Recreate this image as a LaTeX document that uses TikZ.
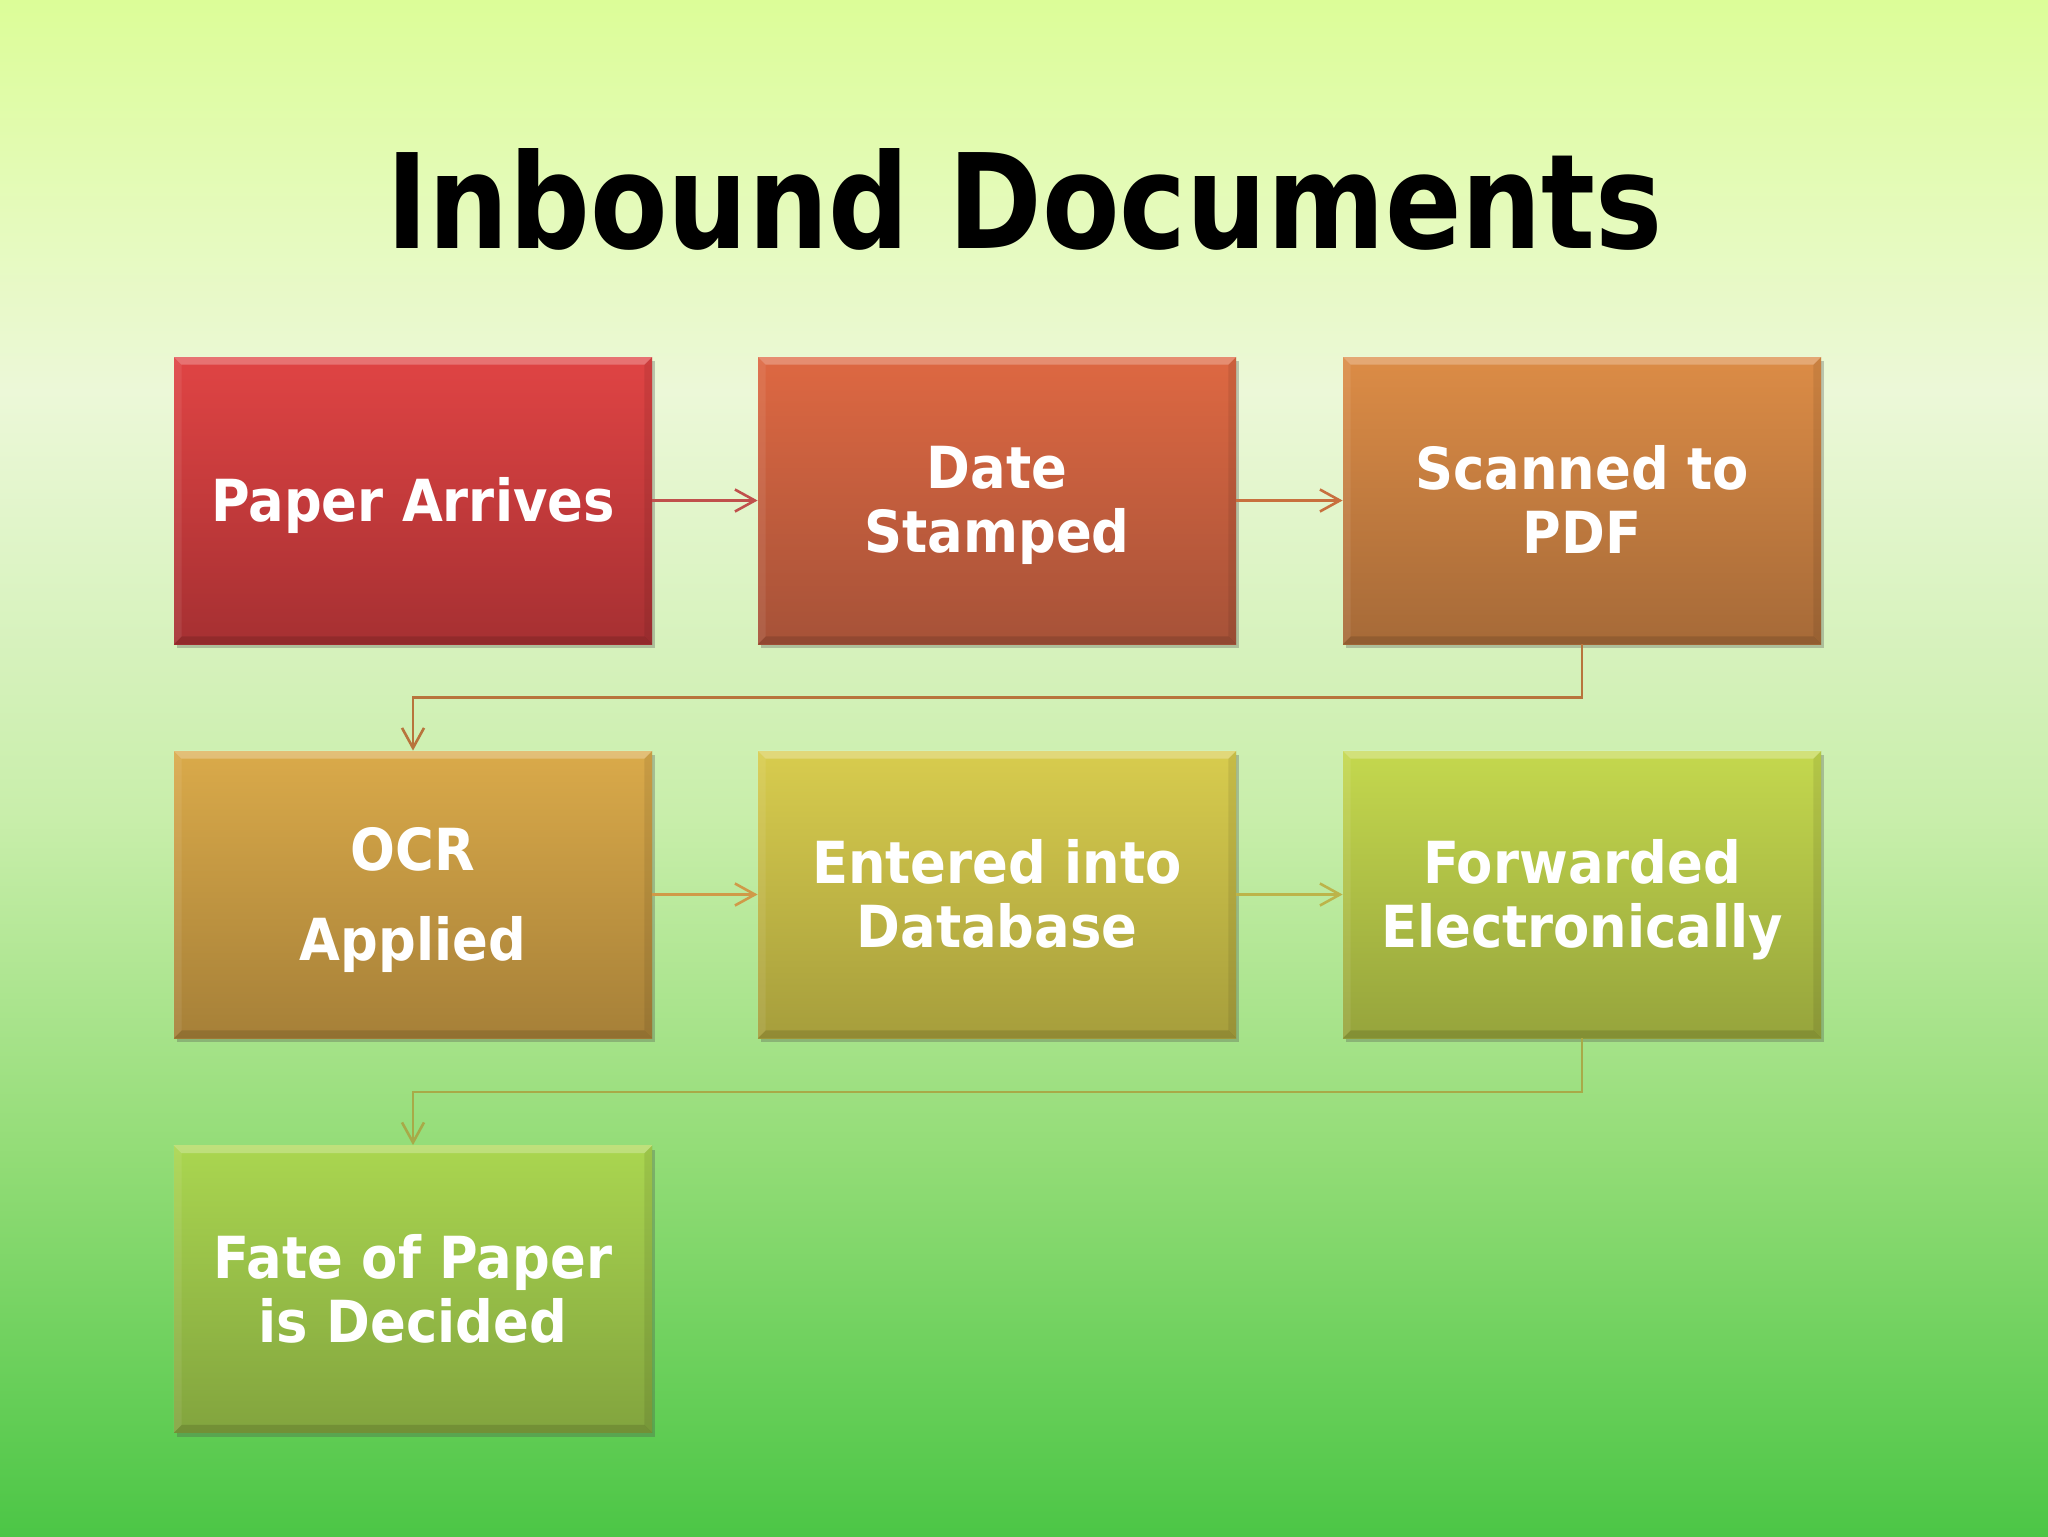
\documentclass[tikz,border=0pt]{standalone}
\usepackage{fontspec}
\setmainfont{DejaVu Sans}
\newfontfamily\boxfont{DejaVu Sans}[FakeStretch=0.91]
\usetikzlibrary{arrows.meta,shadows,calc}
\definecolor{bgA}{HTML}{DCFD98}
\definecolor{bgB}{HTML}{ECF8D8}
\definecolor{bgC}{HTML}{C8EEAA}
\definecolor{bgD}{HTML}{92DC76}
\definecolor{bgE}{HTML}{4CC646}
\tikzset{
  stepbox/.style={minimum width=239pt, minimum height=143.5pt, inner sep=0pt,
    drop shadow={shadow xshift=1.5pt, shadow yshift=-2pt, opacity=0.3, fill=black!70}},
  boxtext/.style={inner sep=0pt, yshift=-2.5pt, text=white, align=center,
    font=\boxfont\bfseries\fontsize{29}{32}\selectfont},
  conn/.style={line width=1.1pt, -{Straight Barb[length=10pt,width=11pt,line width=1.3pt]}},
}
\newcommand{\bevel}[1]{%
  \fill[white,opacity=0.25] (#1.north west) -- (#1.north east) -- ([xshift=-4pt,yshift=-4pt]#1.north east) -- ([xshift=4pt,yshift=-4pt]#1.north west) -- cycle;
  \fill[black,opacity=0.12] (#1.south west) -- (#1.south east) -- ([xshift=-4pt,yshift=4pt]#1.south east) -- ([xshift=4pt,yshift=4pt]#1.south west) -- cycle;
  \fill[black,opacity=0.08] (#1.north east) -- (#1.south east) -- ([xshift=-4pt,yshift=4pt]#1.south east) -- ([xshift=-4pt,yshift=-4pt]#1.north east) -- cycle;
  \fill[white,opacity=0.08] (#1.north west) -- (#1.south west) -- ([xshift=4pt,yshift=4pt]#1.south west) -- ([xshift=4pt,yshift=-4pt]#1.north west) -- cycle;
}
\newcommand{\pdepth}{\vphantom{p}}
\begin{document}
\begin{tikzpicture}[x=0.5pt,y=-0.5pt]
\useasboundingbox (0,0) rectangle (2048,1536);
% background
\shade[top color=bgA, bottom color=bgB] (0,0) rectangle (2048,392);
\shade[top color=bgB, bottom color=bgC] (0,391) rectangle (2048,820);
\shade[top color=bgC, bottom color=bgD] (0,819) rectangle (2048,1160);
\shade[top color=bgD, bottom color=bgE] (0,1159) rectangle (2048,1536);

% title
\node[anchor=base, inner sep=0pt] (title) at (1025,248)
  {\resizebox{638pt}{50pt}{\bfseries Inbound Documents}};

% boxes
\node[stepbox, top color={rgb,255:red,224;green,68;blue,68}, bottom color={rgb,255:red,166;green,48;blue,50}] (b1) at (413,500.5) {};
\node[stepbox, top color={rgb,255:red,222;green,104;blue,66}, bottom color={rgb,255:red,166;green,82;blue,56}] (b2) at (997,500.5) {};
\node[stepbox, top color={rgb,255:red,220;green,140;blue,70}, bottom color={rgb,255:red,166;green,106;blue,56}] (b3) at (1582,500.5) {};
\node[stepbox, top color={rgb,255:red,218;green,170;blue,74}, bottom color={rgb,255:red,166;green,128;blue,56}] (b4) at (413,894.5) {};
\node[stepbox, top color={rgb,255:red,216;green,204;blue,78}, bottom color={rgb,255:red,166;green,158;blue,60}] (b5) at (997,894.5) {};
\node[stepbox, top color={rgb,255:red,196;green,216;blue,78}, bottom color={rgb,255:red,150;green,164;blue,60}] (b6) at (1582,894.5) {};
\node[stepbox, top color={rgb,255:red,170;green,214;blue,80}, bottom color={rgb,255:red,130;green,164;blue,62}] (b7) at (413,1289) {};
\foreach \b in {b1,b2,b3,b4,b5,b6,b7} {\bevel{\b}}

% box texts
\node[boxtext] (t1) at (b1) {Paper Arrives\pdepth};
\node[boxtext] (t2) at (b2) {Date\\Stamped\pdepth};
\node[boxtext] (t3) at (b3) {Scanned to\\PDF\pdepth};
\node[boxtext] (t4) at (b4) {OCR\\[13pt]Applied\pdepth};
\node[boxtext] (t5) at (b5) {Entered into\\Database\pdepth};
\node[boxtext] (t6) at (b6) {Forwarded\\Electronically\pdepth};
\node[boxtext] (t7) at (b7) {Fate of Paper\\is Decided\pdepth};

% connectors
\draw[conn, draw={rgb,255:red,192;green,80;blue,76}] (b1) -- (b2);
\draw[conn, draw={rgb,255:red,200;green,112;blue,62}] (b2) -- (b3);
\coordinate (m1) at ($(b3.south)!0.5!(b4.north)$);
\draw[conn, draw={rgb,255:red,184;green,116;blue,60}] (b3.south) |- (m1) -| (b4.north);
\draw[conn, draw={rgb,255:red,208;green,154;blue,72}] (b4) -- (b5);
\draw[conn, draw={rgb,255:red,188;green,180;blue,74}] (b5) -- (b6);
\coordinate (m2) at ($(b6.south)!0.5!(b7.north)$);
\draw[conn, draw={rgb,255:red,168;green,170;blue,72}] (b6.south) |- (m2) -| (b7.north);
\end{tikzpicture}
\end{document}
